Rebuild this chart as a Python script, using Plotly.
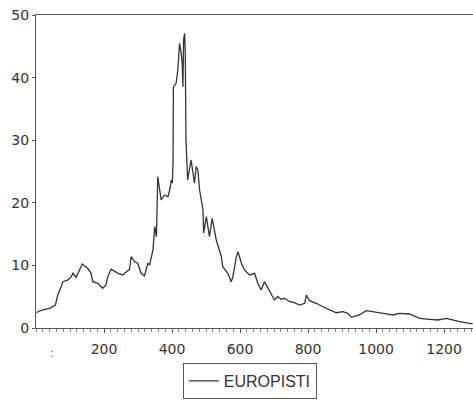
import plotly.graph_objects as go

# Observation number and EUROPISTI level
obs = [3, 5, 20, 40, 57, 64, 74, 79, 94, 104, 108, 118, 128, 136, 143, 152, 162, 167,
       182, 196, 206, 211, 221, 231, 241, 255, 265, 275, 280, 290, 299, 309, 319, 329,
       334, 344, 349, 354, 358, 363, 368, 378, 388, 393, 398, 401, 403, 404, 412, 417,
       422, 427, 430, 432, 434, 437, 439, 441, 446, 456, 461, 466, 471, 476, 481, 491,
       493, 501, 510, 518, 530, 540, 545, 549, 564, 574, 579, 589, 594, 604, 613, 628,
       643, 652, 662, 672, 682, 701, 711, 721, 731, 746, 760, 775, 790, 795, 804, 824,
       844, 863, 883, 902, 917, 927, 951, 971, 1001, 1030, 1049, 1069, 1098, 1128, 1157,
       1182, 1206, 1226, 1246, 1275, 1284]
europisti = [2.40, 2.60, 2.88, 3.15, 3.67, 5.27, 6.60, 7.40, 7.67, 8.19, 8.74, 8.10, 9.27,
             10.22, 9.90, 9.54, 8.74, 7.40, 7.14, 6.34, 6.87, 8.19, 9.38, 8.99, 8.74, 8.47,
             8.99, 9.38, 11.39, 10.59, 10.34, 8.74, 8.31, 10.34, 10.06, 12.46, 16.18, 14.58,
             24.17, 22.57, 20.45, 21.25, 20.97, 22.04, 23.64, 23.16, 26.84, 38.55, 39.09,
             41.21, 45.48, 43.88, 42.28, 38.55, 46.01, 47.08, 43.88, 30.03, 23.64, 26.84,
             24.71, 23.16, 25.77, 25.24, 22.04, 18.85, 15.18, 17.78, 14.58, 17.52, 14.06,
             12.46, 11.39, 9.79, 8.74, 7.40, 8.19, 11.39, 12.19, 10.34, 9.27, 8.47, 8.74,
             7.14, 6.07, 7.40, 6.34, 4.47, 5.00, 4.58, 4.74, 4.20, 4.04, 3.67, 3.95, 5.27,
             4.36, 3.95, 3.40, 2.88, 2.44, 2.60, 2.35, 1.71, 2.08, 2.76, 2.44, 2.24, 2.08,
             2.35, 2.24, 1.55, 1.39, 1.28, 1.55, 1.28, 1.01, 0.75, 0.64]

x_ticks = [200, 400, 600, 800, 1000, 1200]
y_ticks = [0, 10, 20, 30, 40, 50]

ink = "#333333"
axis_col = "#555555"
tick_font = "DejaVu Sans, sans-serif"
legend_font = "Liberation Sans, Arial, sans-serif"

fig = go.Figure()
fig.add_trace(go.Scatter(
    x=obs, y=europisti, mode="lines", name="EUROPISTI",
    line=dict(color=ink, width=1.3),
))

fig.update_layout(
    width=473, height=402,
    margin=dict(l=36, r=0, t=15, b=74),
    paper_bgcolor="white", plot_bgcolor="white",
    font=dict(family=tick_font, size=14, color=ink),
    showlegend=True,
    legend=dict(
        x=0.336, y=-0.112, xanchor="left", yanchor="top",
        orientation="h",
        bordercolor=axis_col, borderwidth=1,
        bgcolor="white",
        font=dict(family=legend_font, size=16, color=ink),
        itemwidth=30,
        tracegroupgap=0,
    ),
    xaxis=dict(
        range=[0, 1285],
        tickvals=x_ticks,
        showgrid=False, zeroline=False,
        showline=True, linecolor=axis_col, linewidth=1, mirror=True,
        ticks="outside", ticklen=4, tickcolor=axis_col,
        minor=dict(dtick=20, ticks="outside", ticklen=3, tickcolor="#888888"),
        tickfont=dict(family=tick_font, size=14, color=ink),
        ticklabelstandoff=4,
    ),
    yaxis=dict(
        range=[0, 50],
        tickvals=y_ticks,
        showgrid=False, zeroline=False,
        showline=True, linecolor=axis_col, linewidth=1,
        ticks="outside", ticklen=3, tickcolor=axis_col,
        tickfont=dict(family=tick_font, size=14, color=ink),
    ),
)

fig.add_annotation(
    x=48, y=-0.05, xref="x", yref="paper", text=":",
    showarrow=False, font=dict(size=12, color="#777777"), yanchor="top",
)

fig.write_html("out.html")
